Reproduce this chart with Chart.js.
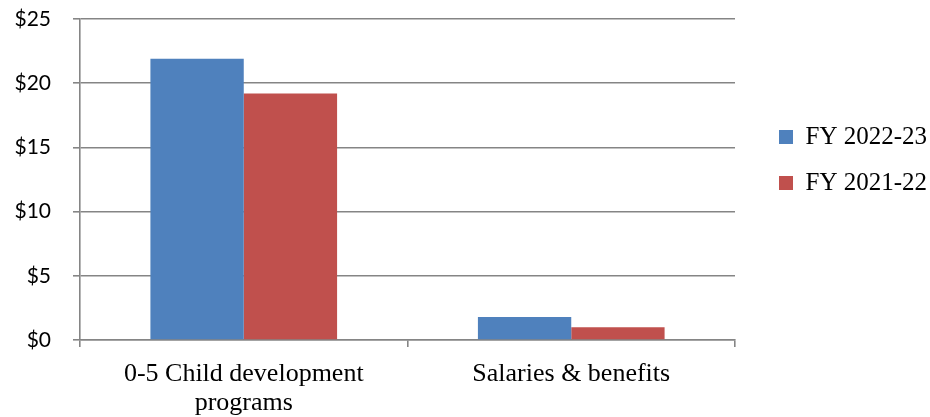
<!DOCTYPE html>
<html>
<head>
<meta charset="utf-8">
<script src="https://cdn.jsdelivr.net/npm/chart.js@4/dist/chart.umd.min.js"></script>
<style>
  html, body { margin: 0; padding: 0; background: #fff; }
  #wrap { width: 930px; height: 417px; }
</style>
</head>
<body>
<div id="wrap"><canvas id="c" width="930" height="417"></canvas></div>
<script>
const categories = [["0-5 Child development", "programs"], "Salaries & benefits"];
const seriesNames = ["FY 2022-23", "FY 2021-22"];
const fy2223 = [21.9, 1.8];
const fy2122 = [19.2, 1.0];
const yTicks = [0, 5, 10, 15, 20, 25];

const gridColor = '#858585';

// Give the right-hand legend a fixed width and nudge its items to the right
const legendPlacement = {
  id: 'legendPlacement',
  beforeLayout(chart) {
    const lg = chart.legend;
    if (lg && !lg.__patched) {
      const origFit = lg.fit;
      lg.fit = function () { origFit.call(this); this.width = 195; };
      lg.__patched = true;
    }
  },
  afterLayout(chart) {
    const lg = chart.legend;
    if (lg) { lg.left += 23; lg.right += 23; }
  }
};

new Chart(document.getElementById('c'), {
  type: 'bar',
  data: {
    labels: categories,
    datasets: [
      { label: seriesNames[0], data: fy2223, backgroundColor: '#4F81BD', borderWidth: 0 },
      { label: seriesNames[1], data: fy2122, backgroundColor: '#C0504D', borderWidth: 0 }
    ]
  },
  plugins: [legendPlacement],
  options: {
    responsive: false,
    animation: false,
    events: [],
    layout: { padding: { top: 19, left: 0, right: 0, bottom: 0 } },
    datasets: { bar: { categoryPercentage: 0.57, barPercentage: 1.0 } },
    plugins: {
      tooltip: { enabled: false },
      legend: {
        position: 'right',
        align: 'start',
        fullSize: false,
        title: { display: true, text: '', font: { size: 12, lineHeight: 1 }, padding: { top: 72.5, bottom: 0 } },
        labels: {
          boxWidth: 14,
          boxHeight: 14,
          padding: 21,
          color: '#000',
          font: { family: '"Liberation Serif", "Times New Roman", serif', size: 25 }
        }
      }
    },
    scales: {
      x: {
        offset: true,
        grid: { display: true, offset: true, drawOnChartArea: false, drawTicks: true, tickLength: 7, color: gridColor, lineWidth: 1.6 },
        border: { display: true, color: gridColor, width: 1.6 },
        ticks: {
          color: '#000',
          padding: 13,
          maxRotation: 0,
          autoSkip: false,
          font: { family: '"Liberation Serif", "Times New Roman", serif', size: 26, lineHeight: 1.1 }
        },
        afterFit: s => { s.height = 77; }
      },
      y: {
        min: 0,
        max: 25,
        afterBuildTicks: s => { s.ticks = yTicks.map(v => ({ value: v })); },
        grid: { display: true, drawTicks: true, tickLength: 7, color: gridColor, lineWidth: 1.6 },
        border: { display: true, color: gridColor, width: 1.6 },
        ticks: {
          color: '#000',
          padding: 22,
          font: { family: 'Lato, "Open Sans", sans-serif', size: 21 },
          callback: v => '$' + v
        },
        afterFit: s => { s.width = 80; s.paddingTop = 0; s.paddingBottom = 0; }
      }
    }
  }
});
</script>
</body>
</html>
